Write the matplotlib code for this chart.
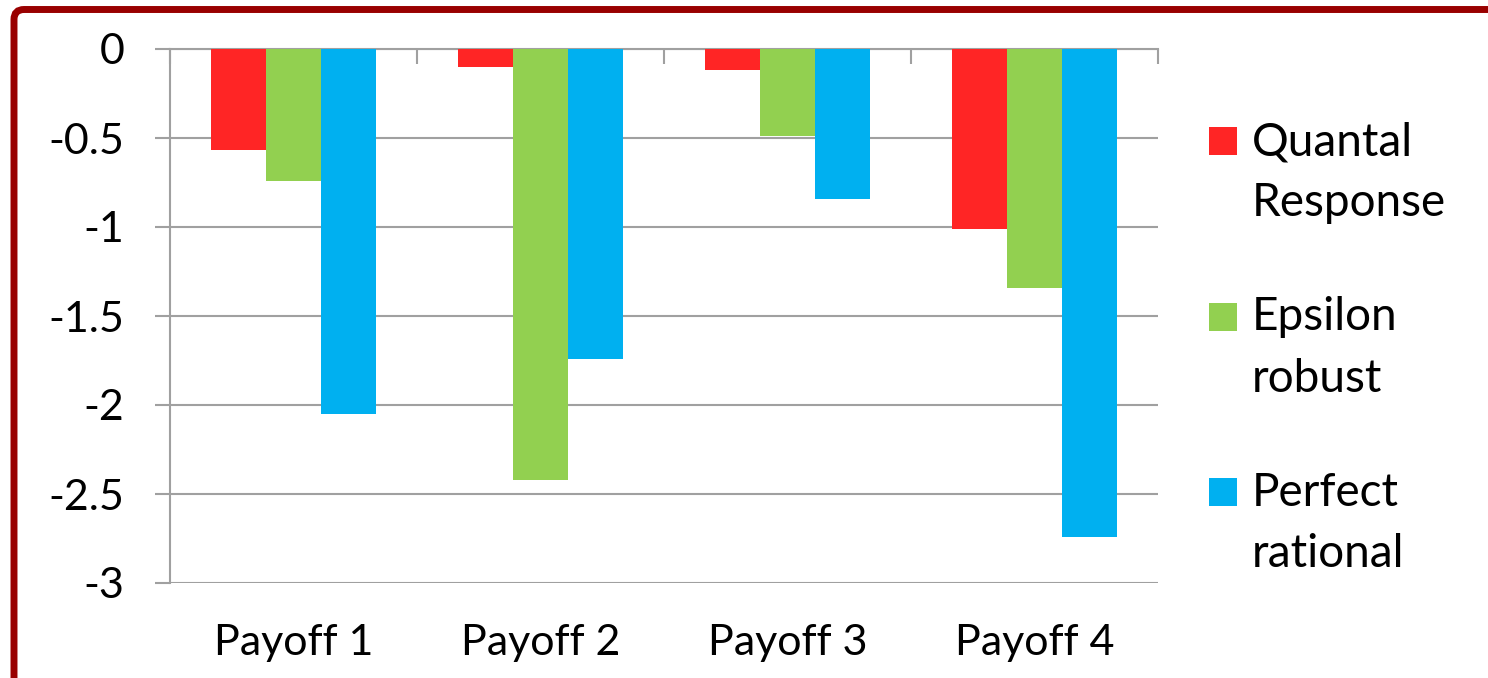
import numpy as np
import matplotlib.pyplot as plt
from matplotlib.patches import FancyBboxPatch, Rectangle

# Values per payoff structure
categories = ['Payoff 1', 'Payoff 2', 'Payoff 3', 'Payoff 4']
quantal = [-0.57, -0.10, -0.12, -1.01]
epsilon = [-0.74, -2.42, -0.49, -1.34]
perfect = [-2.05, -1.74, -0.84, -2.74]
series_names = ['Quantal\nResponse', 'Epsilon\nrobust', 'Perfect\nrational']
yticks = [0, -0.5, -1, -1.5, -2, -2.5, -3]
ytick_labels = ['0', '-0.5', '-1', '-1.5', '-2', '-2.5', '-3']

colors = ['#FF2525', '#92D050', '#00B0F0']
grey = '#A0A0A0'
plt.rcParams['font.family'] = ['Lato', 'DejaVu Sans']

W, H = 1488, 678
fig = plt.figure(figsize=(W / 100, H / 100), dpi=100)
fig.patch.set_facecolor('white')

# dark red frame with rounded corner, running off the right and bottom edges
frame = FancyBboxPatch((0.14, -1.0), 20, 6.78 - 0.095 + 1.0,
                       boxstyle='round,pad=0,rounding_size=0.1',
                       transform=fig.dpi_scale_trans, facecolor='none',
                       edgecolor='#990000', linewidth=5.0, clip_on=False)
fig.patches.append(frame)

left, right, top, bottom = 170, 1158, 49, 583
ax = fig.add_axes([left / W, (H - bottom) / H, (right - left) / W, (bottom - top) / H])

x = np.arange(len(categories))
bw = 55 / 247
for i, vals in enumerate([quantal, epsilon, perfect]):
    ax.bar(x + (i - 1) * bw, vals, width=bw, color=colors[i], linewidth=0, zorder=3)

ax.set_xlim(-0.5, len(categories) - 0.5)
ax.set_ylim(-3, 0)
ax.set_yticks(yticks)
ax.set_yticklabels(ytick_labels)
ax.set_xticks(x)
ax.set_xticklabels(categories)

for s in ['right', 'bottom']:
    ax.spines[s].set_visible(False)
for s in ['left', 'top']:
    ax.spines[s].set_color(grey)
    ax.spines[s].set_linewidth(1.5)

ax.yaxis.grid(True, color=grey, linewidth=1.5, zorder=0)
ax.tick_params(axis='y', direction='out', length=11, width=1.5, color=grey,
               labelsize=31, pad=22)
ax.tick_params(axis='x', which='major', bottom=False, top=False, labelsize=31, pad=26)

# boundary ticks hanging down from the category axis at zero
ax.set_xticks(np.arange(-0.5, len(categories)), minor=True)
ax.tick_params(axis='x', which='minor', bottom=False, top=True, direction='in',
               length=10.5, width=1.5, color=grey)

# legend drawn by hand so each swatch sits on the first text line
for i, name in enumerate(series_names):
    y0 = 127 + i * 175.5
    fig.patches.append(Rectangle((1209 / W, (H - y0 - 28) / H), 28 / W, 28 / H,
                                 transform=fig.transFigure, facecolor=colors[i],
                                 edgecolor='none'))
    line1, line2 = name.split('\n')
    fig.text(1252 / W, (H - y0 - 15) / H, line1, fontsize=33, va='center', ha='left')
    fig.text(1252 / W, (H - y0 - 76) / H, line2, fontsize=33, va='center', ha='left')

fig.savefig('out.png', dpi=100, facecolor='white')
